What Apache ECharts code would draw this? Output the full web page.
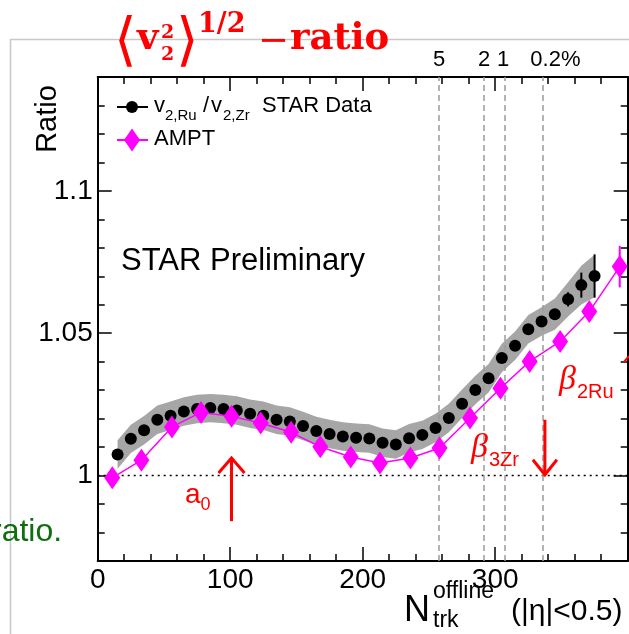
<!DOCTYPE html>
<html>
<head>
<meta charset="utf-8">
<script src="https://cdn.jsdelivr.net/npm/echarts@6/dist/echarts.min.js"></script>
<style>
  html, body { margin: 0; padding: 0; background: #fff; }
  #chart { width: 629px; height: 634px; }
</style>
</head>
<body>
<div id="chart"></div>
<script>
// v2 ratio Ru/Zr versus N_trk^offline: STAR data (stat. bars + syst. band) and AMPT
const starN = [15, 25, 35, 45, 55, 65, 75, 85, 95, 105, 115, 125, 135, 145, 155, 165, 175, 185, 195, 205,
  215, 225, 235, 245, 255, 265, 275, 285, 295, 305, 315, 325, 335, 345, 355, 365, 375];
const starRatio = [1.0074, 1.0129, 1.0159, 1.0196, 1.0210, 1.0225, 1.0234, 1.0237, 1.0234, 1.0229,
  1.0217, 1.0210, 1.0196, 1.0190, 1.0174, 1.0157, 1.0146, 1.0137, 1.0133, 1.0130,
  1.0115, 1.0109, 1.0131, 1.0143, 1.0167, 1.0202, 1.0252, 1.0301, 1.0342, 1.0413,
  1.0456, 1.0514, 1.0541, 1.0567, 1.0619, 1.0669, 1.0701];
const starStat = [0.0008, 0.0008, 0.0008, 0.0008, 0.0008, 0.0008, 0.0008, 0.0008, 0.0008, 0.0008,
  0.0008, 0.0008, 0.0008, 0.0008, 0.0008, 0.0008, 0.0008, 0.0008, 0.0008, 0.0008,
  0.0008, 0.0008, 0.0008, 0.0008, 0.0008, 0.0008, 0.0008, 0.0008, 0.0008, 0.0010,
  0.0011, 0.0012, 0.0014, 0.0018, 0.0025, 0.0044, 0.0076];
const starSys = [0.0050, 0.0050, 0.0050, 0.0050, 0.0050, 0.0050, 0.0050, 0.0050, 0.0050, 0.0050,
  0.0050, 0.0050, 0.0050, 0.0050, 0.0050, 0.0050, 0.0050, 0.0050, 0.0050, 0.0050,
  0.0050, 0.0050, 0.0050, 0.0050, 0.0050, 0.0050, 0.0050, 0.0050, 0.0050, 0.0050,
  0.0050, 0.0050, 0.0050, 0.0055, 0.0060, 0.0068, 0.0075];

const amptN = [11, 33, 56, 78, 101, 123, 146, 168, 191, 213, 236, 258, 281, 304, 326, 349, 371, 394];
const amptRatio = [0.9992, 1.0054, 1.0171, 1.0222, 1.0208, 1.0185, 1.0152, 1.0101, 1.0065, 1.0044,
  1.0062, 1.0097, 1.0202, 1.0307, 1.0401, 1.0471, 1.0576, 1.0734];
const amptErr = [0.0015, 0.0015, 0.0015, 0.0015, 0.0015, 0.0015, 0.0015, 0.0015, 0.0015, 0.0015,
  0.0015, 0.0015, 0.0015, 0.0015, 0.0015, 0.0020, 0.0025, 0.0073];

// centrality boundaries (top labels) and the unity reference
const centralityCuts = [257.6, 291.6, 307.4, 335.6];
const centralityLabels = ['5', '2', '1', '0.2%'];
const unity = 1;

// axis ticks
const xMajorTicks = [0, 100, 200, 300, 400];
const xMinorTicks = [0, 20, 40, 60, 80, 100, 120, 140, 160, 180, 200, 220, 240, 260, 280, 300, 320, 340, 360, 380, 400];
const xTickLabels = [0, 100, 200, 300];
const yMajorTicks = [1, 1.05, 1.1];
const yMinorTicks = [0.97, 0.98, 0.99, 1.0, 1.01, 1.02, 1.03, 1.04, 1.05, 1.06, 1.07, 1.08, 1.09, 1.1, 1.11, 1.12, 1.13, 1.14];
const yTickLabels = [1, 1.05, 1.1];

const SANS = "'Liberation Sans', Arial, Helvetica, sans-serif";
const SERIF = "'DejaVu Serif', serif";
const RED = '#ff0000';
const MAGENTA = '#ff00ff';

function valueAxis(pos, min, max, ticks, len, labels, withLine) {
  return {
    type: 'value', position: pos, min: min, max: max,
    axisLine: { show: withLine, onZero: false, lineStyle: { color: '#000', width: 2 } },
    axisTick: { show: true, inside: true, length: len, customValues: ticks, lineStyle: { color: '#000', width: 1.5 } },
    axisLabel: labels ? {
      show: true, customValues: labels, color: '#000', fontSize: 28, fontFamily: SANS, margin: 5
    } : { show: false },
    splitLine: { show: false }
  };
}

function errorBars(xs, ys, es, color, width, z) {
  return {
    type: 'custom', silent: true, z: z,
    data: xs.map((x, i) => [x, ys[i], es[i]]),
    encode: { x: 0, y: 1 },
    renderItem: function (params, api) {
      const x = api.value(0), y = api.value(1), e = api.value(2);
      const lo = api.coord([x, y - e]);
      const hi = api.coord([x, y + e]);
      return { type: 'line', shape: { x1: lo[0], y1: lo[1], x2: hi[0], y2: hi[1] },
        style: { stroke: color, lineWidth: width } };
    }
  };
}

const option = {
  animation: false,
  backgroundColor: '#fff',
  grid: { left: 97.7, right: 1.3, top: 77, bottom: 73, outerBoundsMode: 'none' },
  xAxis: [
    valueAxis('bottom', 0, 400, xMajorTicks, 14, xTickLabels, true),
    valueAxis('bottom', 0, 400, xMinorTicks, 7, null, false),
    valueAxis('top', 0, 400, xMajorTicks, 14, null, true),
    valueAxis('top', 0, 400, xMinorTicks, 7, null, false)
  ],
  yAxis: [
    valueAxis('left', 0.97, 1.14, yMajorTicks, 14, yTickLabels, true),
    valueAxis('left', 0.97, 1.14, yMinorTicks, 7, null, false),
    valueAxis('right', 0.97, 1.14, yMajorTicks, 14, null, true),
    valueAxis('right', 0.97, 1.14, yMinorTicks, 7, null, false)
  ],
  series: [
    {
      // unity line with centrality boundaries
      type: 'line', z: 1, silent: true, symbol: 'none',
      data: [[0, unity], [400, unity]],
      lineStyle: { color: '#000', width: 1.5, type: [2, 4] },
      markLine: {
        silent: true, symbol: 'none', label: { show: false },
        lineStyle: { color: '#9a9a9a', width: 1.5, type: [6, 4] },
        data: centralityCuts.map(v => ({ xAxis: v }))
      }
    },
    {
      // systematic band
      type: 'custom', z: 2, silent: true,
      data: starN.map((x, i) => [x, starRatio[i] - starSys[i], starRatio[i] + starSys[i]]),
      encode: { x: 0, y: [1, 2] },
      renderItem: function (params, api) {
        if (params.dataIndex !== 0) return null;
        const upper = [], lower = [];
        for (let i = 0; i < starN.length; i++) {
          upper.push(api.coord([starN[i], starRatio[i] + starSys[i]]));
          lower.push(api.coord([starN[i], starRatio[i] - starSys[i]]));
        }
        return { type: 'polygon', shape: { points: upper.concat(lower.reverse()) },
          style: { fill: '#a6a6a6' } };
      }
    },
    errorBars(starN, starRatio, starStat, '#000', 2, 4),
    {
      name: 'STAR Data', type: 'scatter', z: 5, silent: true,
      symbol: 'circle', symbolSize: 12,
      itemStyle: { color: '#000', opacity: 1 },
      data: starN.map((x, i) => [x, starRatio[i]])
    },
    errorBars(amptN, amptRatio, amptErr, MAGENTA, 2, 6),
    {
      name: 'AMPT', type: 'line', z: 6, silent: true,
      symbol: 'diamond', symbolSize: [16, 23],
      itemStyle: { color: MAGENTA, opacity: 1 },
      lineStyle: { color: MAGENTA, width: 1.5 },
      data: amptN.map((x, i) => [x, amptRatio[i]])
    }
  ]
};

const chart = echarts.init(document.getElementById('chart'));
chart.setOption(option);

// ---------- text and annotations ----------
const measure = document.createElement('canvas').getContext('2d');

function fontOf(p) {
  return (p.style || 'normal') + ' ' + (p.weight || 'normal') + ' ' + p.size + 'px ' + p.family;
}

// lays out text pieces on a common baseline; a piece may fix its own x
function textRun(x0, baseline, parts, defaults) {
  const els = [];
  let x = x0;
  parts.forEach(function (raw) {
    const p = Object.assign({}, defaults, raw);
    if (p.x != null) x = p.x;
    const font = fontOf(p);
    measure.font = font;
    els.push({
      type: 'text', silent: true, z: 100,
      style: { x: x, y: baseline + (p.dy || 0) - 0.35 * p.size, text: p.t, font: font,
        fill: p.fill, align: 'left', verticalAlign: 'middle' }
    });
    x += measure.measureText(p.t).width;
  });
  return els;
}

function arrow(ax, yFrom, yTo, half, head) {
  const a = chart.convertToPixel({ xAxisIndex: 0, yAxisIndex: 0 }, [ax, yFrom]);
  const b = chart.convertToPixel({ xAxisIndex: 0, yAxisIndex: 0 }, [ax, yTo]);
  const dir = b[1] < a[1] ? 1 : -1;
  return [
    { type: 'line', silent: true, z: 100, shape: { x1: a[0], y1: a[1], x2: b[0], y2: b[1] },
      style: { stroke: RED, lineWidth: 3 } },
    { type: 'polyline', silent: true, z: 100,
      shape: { points: [[b[0] - half, b[1] + dir * head], [b[0], b[1]], [b[0] + half, b[1] + dir * head]] },
      style: { stroke: RED, lineWidth: 3, fill: null } }
  ];
}

const arrowA0 = { x: 101, from: 0.984, to: 1.0062 };
const arrowB3 = { x: 337.5, from: 1.0196, to: 1.0003 };
const cutLabelShift = [-6, -6, -8, -12];

let g = [];

// page frame
g.push({ type: 'line', silent: true, z: 0, shape: { x1: 10.5, y1: 39, x2: 10.5, y2: 634 }, style: { stroke: '#c8c8c8', lineWidth: 1.5 } });
g.push({ type: 'line', silent: true, z: 0, shape: { x1: 10, y1: 39.5, x2: 629, y2: 39.5 }, style: { stroke: '#c8c8c8', lineWidth: 1.5 } });

// heading
const tb = { family: SERIF, weight: 'bold', fill: RED, size: 37 };
const BR = "'DejaVu Sans', sans-serif";
g = g.concat(textRun(0, 64, [{ t: '\u27e8', x: 114, family: BR, weight: 'normal', size: 58 }], tb));
g = g.concat(textRun(0, 52, [{ t: 'v', x: 137 }], tb));
g = g.concat(textRun(0, 40, [{ t: '2', x: 161, size: 19 }], tb));
g = g.concat(textRun(0, 62, [{ t: '2', x: 161, size: 19 }], tb));
g = g.concat(textRun(0, 64, [{ t: '\u27e9', x: 176, family: BR, weight: 'normal', size: 58 }], tb));
g = g.concat(textRun(0, 34, [{ t: '1/2', x: 198, size: 27 }], tb));
g = g.concat(textRun(0, 55, [{ t: '\u2212', x: 258, weight: 'normal' }], tb));
g = g.concat(textRun(0, 52, [{ t: 'ratio', x: 290 }], tb));

// centrality labels above the frame
centralityCuts.forEach(function (c, i) {
  const p = chart.convertToPixel({ xAxisIndex: 0, yAxisIndex: 0 }, [c, 1]);
  g = g.concat(textRun(p[0] + cutLabelShift[i], 68, [{ t: centralityLabels[i] }], { family: SANS, size: 22, fill: '#000' }));
});

// y-axis title
g.push({ type: 'text', silent: true, z: 100, x: 48, y: 119, rotation: Math.PI / 2,
  style: { x: 0, y: 0, text: 'Ratio', font: 'normal normal 29px ' + SANS, fill: '#000', align: 'center', verticalAlign: 'middle' } });

// x-axis title
const xs = { family: SANS, fill: '#000', size: 36 };
g = g.concat(textRun(404, 624, [{ t: 'N' }], xs));
g = g.concat(textRun(433, 600, [{ t: 'offline', size: 23 }], xs));
g = g.concat(textRun(433, 629, [{ t: 'trk', size: 23 }], xs));
g = g.concat(textRun(511, 622, [{ t: '(|\u03b7|<0.5)', size: 30 }], xs));

// legend
g.push({ type: 'line', silent: true, z: 100, shape: { x1: 117, y1: 107, x2: 148, y2: 107 }, style: { stroke: '#000', lineWidth: 2 } });
g.push({ type: 'circle', silent: true, z: 101, shape: { cx: 132, cy: 107, r: 6 }, style: { fill: '#000' } });
g.push({ type: 'line', silent: true, z: 100, shape: { x1: 117, y1: 140, x2: 148, y2: 140 }, style: { stroke: MAGENTA, lineWidth: 2 } });
g.push({ type: 'polygon', silent: true, z: 101, shape: { points: [[132, 128.5], [140, 140], [132, 151.5], [124, 140]] }, style: { fill: MAGENTA } });
const lg = { family: SANS, fill: '#000', size: 22 };
g = g.concat(textRun(154, 114, [
  { t: 'v', x: 154 }, { t: '2,Ru', x: 165, size: 15, dy: 7.5 },
  { t: '/', x: 203 }, { t: 'v', x: 211 }, { t: '2,Zr', x: 223, size: 15, dy: 7.5 },
  { t: 'STAR Data', x: 262 }
], lg));
g = g.concat(textRun(154, 147, [{ t: 'AMPT' }], lg));

// preliminary tag
g = g.concat(textRun(121, 272, [{ t: 'STAR Preliminary' }], { family: SANS, fill: '#000', size: 31 }));

// annotations
const an = { family: SANS, fill: RED, size: 28 };
g = g.concat(arrow(arrowA0.x, arrowA0.from, arrowA0.to, 13, 15));
g = g.concat(textRun(185, 505, [{ t: 'a' }, { t: '0', size: 18, dy: 6 }], an));
g = g.concat(arrow(arrowB3.x, arrowB3.from, arrowB3.to, 12, 15));
g = g.concat(textRun(471, 460, [{ t: '\u03b2', family: "'Liberation Serif', serif", style: 'italic', size: 34 },
  { t: '3Zr', x: 489, size: 20, dy: 7 }], an));
g = g.concat(textRun(559, 392, [{ t: '\u03b2', family: "'Liberation Serif', serif", style: 'italic', size: 34 },
  { t: '2Ru', x: 577, size: 20, dy: 7 }], an));
g.push({ type: 'line', silent: true, z: 100, shape: { x1: 624, y1: 362, x2: 629, y2: 356 }, style: { stroke: RED, lineWidth: 2 } });

// side note
g = g.concat(textRun(-9, 543, [{ t: 'ratio.' }], { family: SANS, fill: '#0f6e0f', size: 32 }));

chart.setOption({ graphic: g });
</script>
</body>
</html>
